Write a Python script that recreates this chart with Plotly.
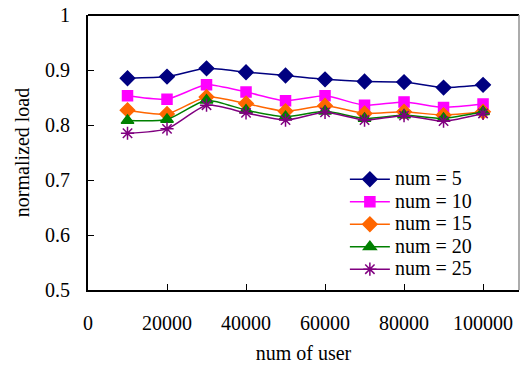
import plotly.graph_objects as go

users = [10000, 20000, 30000, 40000, 50000, 60000, 70000, 80000, 90000, 100000]
num5 = [0.885, 0.888, 0.903, 0.896, 0.890, 0.883, 0.879, 0.878, 0.868, 0.873]
num10 = [0.853, 0.847, 0.873, 0.860, 0.844, 0.853, 0.836, 0.842, 0.832, 0.838]
num15 = [0.827, 0.820, 0.851, 0.839, 0.825, 0.835, 0.821, 0.824, 0.818, 0.824]
num20 = [0.808, 0.810, 0.845, 0.827, 0.815, 0.825, 0.812, 0.818, 0.812, 0.824]
num25 = [0.785, 0.793, 0.836, 0.822, 0.809, 0.823, 0.809, 0.817, 0.807, 0.821]
x_ticks = [0, 20000, 40000, 60000, 80000, 100000]
y_ticks = [0.5, 0.6, 0.7, 0.8, 0.9, 1.0]
y_tick_labels = ["0.5", "0.6", "0.7", "0.8", "0.9", "1"]

series = [
    ("num = 5", num5, "#000080", "diamond", 11),
    ("num = 10", num10, "#FF00FF", "square", 10),
    ("num = 15", num15, "#FF6600", "diamond", 11),
    ("num = 20", num20, "#008000", "triangle-up", 11),
    ("num = 25", num25, "#800080", "asterisk-open", 11),
]

fig = go.Figure()
for name, ys, color, sym, size in series:
    fig.add_trace(go.Scatter(
        x=users, y=ys, mode="lines+markers",
        name="<span style='font-size:20px'>" + name + "</span>",
        line=dict(color=color, width=1.5, shape="spline", smoothing=0.6),
        marker=dict(symbol=sym, size=size, color=color,
                    line=dict(color=color, width=1.5)),
    ))

font = "Liberation Serif, Times New Roman, serif"
fig.update_layout(
    width=520, height=365,
    margin=dict(l=88, r=1, t=15, b=75, autoexpand=False),
    paper_bgcolor="white", plot_bgcolor="white",
    font=dict(family=font, size=20, color="black"),
    showlegend=True,
    legend=dict(x=0.596, y=0.462, xanchor="left", yanchor="top",
                bgcolor="rgba(0,0,0,0)", font=dict(size=15, family=font),
                tracegroupgap=0, itemwidth=40),
    xaxis=dict(range=[0, 109100], tickvals=x_ticks, ticktext=[str(v) for v in x_ticks],
               ticks="inside", ticklen=6, tickcolor="black", showgrid=False,
               zeroline=False, showline=True, linecolor="black", linewidth=2,
               mirror=False, automargin=False, ticklabelstandoff=14,
               title=dict(text="num of user", font=dict(size=20, family=font), standoff=13)),
    yaxis=dict(range=[0.5, 1.0], tickvals=y_ticks, ticktext=y_tick_labels,
               ticks="inside", ticklen=6, tickcolor="black", showgrid=False,
               zeroline=False, showline=True, linecolor="black", linewidth=2,
               automargin=False, ticklabelstandoff=12,
               title=dict(text="normalized load", font=dict(size=20, family=font), standoff=10)),
)
fig.add_shape(type="line", xref="paper", yref="paper", x0=0, x1=1, y0=1, y1=1,
              line=dict(color="black", width=2))
fig.add_shape(type="line", xref="paper", yref="paper", x0=1, x1=1, y0=0, y1=1,
              line=dict(color="#909090", width=1.5))
fig.write_html("out.html", config={"displayModeBar": False},
               post_script="document.body.style.margin='0';")
